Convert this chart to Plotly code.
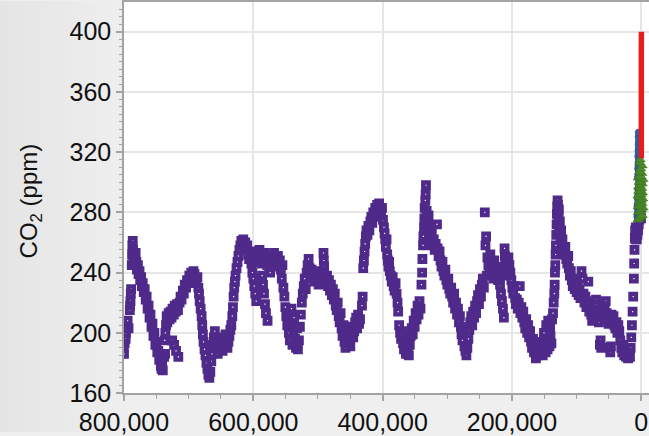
import plotly.graph_objects as go

# ---------------- data ----------------
# Ice-core record (purple squares): age in thousand years before present, CO2 in ppm
purple_age_kyr = [
    800.6, 800.0, 799.0, 797.5, 797.0, 795.5, 794.4, 793.0, 791.0, 790.5, 790.0, 789.5, 789.0,
    788.0, 787.5, 787.0, 786.5, 786.0, 785.5, 785.0,
    784.0, 783.5, 782.0, 781.0, 780.0, 778.5, 777.5, 776.0, 775.0, 773.5, 772.5, 771.0, 769.5,
    768.0, 766.5, 765.0, 763.5, 762.0, 760.5, 759.0, 757.5, 756.0, 754.5, 753.0, 751.5, 750.0,
    748.5, 747.0, 745.5, 744.0, 743.0, 742.0, 741.0, 740.0, 738.0, 736.5,
    737.0, 736.0, 735.0, 734.0, 733.0, 731.0, 729.5, 728.0, 726.5, 725.0, 723.0, 721.5, 720.0,
    718.0, 716.5, 725.5, 722.5, 719.5, 716.0,
    714.0, 712.5, 711.0, 709.0, 707.5, 706.0, 704.0, 702.5, 701.0, 699.0, 697.5, 696.0, 694.0,
    692.5, 691.0, 689.5, 688.0, 686.5,
    685.0, 684.0, 683.0, 681.5, 680.0, 679.0, 678.0, 677.0, 675.5, 674.0, 672.5, 671.0, 669.5,
    668.0, 666.5,
    665.0, 664.0, 662.5, 661.0, 659.5, 658.0, 656.5, 655.0, 653.5, 652.0, 650.5, 649.0, 647.5,
    646.0, 644.5, 643.0, 641.5, 640.0, 638.5, 637.0, 635.5,
    634.0, 632.5, 631.5, 630.5, 629.5, 628.5, 627.5, 626.0, 624.5, 623.0, 621.5, 620.0, 618.5,
    617.0, 615.5, 614.0, 612.5, 611.0, 609.5, 608.0, 606.5, 605.0,
    603.0, 601.5, 600.0, 598.5, 597.0, 595.5,
    598.0, 596.5, 595.0, 593.5, 592.0, 590.5, 589.0, 587.5, 586.0, 584.5, 583.0, 581.5, 580.0,
    578.5, 577.0, 575.5, 574.0, 572.5, 571.0, 569.5, 568.0, 566.5, 565.0, 563.5, 562.0, 560.5,
    586.5, 585.0, 583.5, 582.0, 580.5, 578.0,
    559.0, 557.5, 556.0, 555.0, 553.5, 552.0, 550.5, 549.0, 547.5, 546.0, 545.0, 543.5, 542.0,
    541.0, 539.5, 538.0, 537.0, 535.5, 534.0, 532.5, 531.0, 529.5, 528.0,
    526.5, 525.0, 523.5, 522.0, 520.5, 519.0, 517.5, 516.0, 514.5, 513.0, 511.5, 510.0, 508.5,
    507.0, 505.5, 504.0,
    502.0, 500.5, 499.0, 497.5, 496.0, 494.5, 493.0, 491.5, 491.0, 490.5, 489.0, 487.5, 486.0,
    484.5, 483.0, 481.5, 480.0, 478.5, 477.0, 475.5, 474.0, 472.5, 471.0, 469.5, 468.0, 466.5,
    465.0, 463.5, 462.0, 460.5, 459.0, 457.5, 456.0, 454.5, 453.0, 451.5, 450.0, 448.5, 447.0,
    445.5, 444.0, 442.5, 441.0, 439.5, 438.0, 436.5, 435.0,
    432.0, 431.0, 430.0, 429.0, 428.0, 427.0, 426.0, 425.0, 423.5, 422.0, 420.5, 419.0, 417.5,
    416.0, 414.5, 413.0, 411.5, 410.0, 408.5, 407.0, 405.5, 404.0, 402.5, 401.0,
    399.5, 398.0, 397.0, 396.0, 395.0, 394.0, 393.0, 392.0, 391.0, 390.0, 389.0, 387.5, 386.0,
    384.5, 383.0, 381.5, 380.0, 378.5, 377.0, 376.0,
    374.5, 373.0, 371.5, 370.0, 368.5, 367.0, 365.5, 364.0, 362.5, 361.0, 359.5, 358.0, 356.5,
    355.0, 353.5, 352.0, 350.5, 349.0, 347.5, 346.0, 344.5, 343.0, 341.5,
    340.0, 339.0, 338.5, 337.5, 337.0, 336.0, 335.5, 335.0, 334.0, 333.5, 333.0,
    332.0, 331.0, 330.0, 329.0, 328.0, 327.0, 326.0, 325.0, 324.0, 322.5, 321.0, 319.5, 318.0,
    316.0,
    315.0, 313.5, 312.0, 310.5, 309.0, 307.5, 306.0, 304.5, 303.0, 301.5, 300.0, 298.5, 297.0,
    295.5, 294.0,
    292.5, 291.0, 289.5, 288.0, 286.5, 285.0, 283.5, 282.0, 280.5, 279.0,
    278.0, 276.5, 275.0, 273.5, 272.0, 270.5, 269.0, 267.5,
    266.0, 264.5, 263.0, 261.5, 260.0, 258.5, 257.0, 255.5,
    254.0, 252.5, 251.0, 249.5, 248.0, 246.5, 245.0, 243.5, 242.0, 241.0, 240.0, 239.0,
    238.0, 236.5, 235.0, 233.5, 232.0, 230.5, 229.0, 227.5, 226.0, 224.5, 223.0, 221.5, 220.0,
    218.5, 217.0, 215.5, 214.0, 212.5, 211.5, 211.0, 210.0, 208.5, 207.0, 205.5, 204.0, 202.5,
    201.0, 199.5, 198.0, 196.5, 195.0,
    194.0, 192.5, 191.0, 189.5, 188.0, 187.0, 185.5, 184.0, 182.5, 181.0, 179.5, 178.0, 176.5,
    175.0, 173.5, 172.0, 170.5, 169.0, 167.5, 166.0, 164.5, 163.0, 161.5, 160.0, 158.5, 157.0,
    155.5, 154.0, 152.5, 151.0, 149.5, 148.0, 146.5, 145.0, 143.5, 142.0, 140.5, 139.0,
    150.5, 147.0, 144.0, 141.0, 138.0, 136.5, 135.5, 134.5, 134.0, 133.5, 133.0, 132.5, 132.0,
    131.5, 131.0, 130.5, 130.0, 129.5, 129.0, 128.5, 128.0, 127.5, 127.0, 126.5, 126.0, 125.0,
    124.0, 123.0, 122.0, 120.5, 119.0, 117.5, 116.0, 114.5, 113.0, 112.0, 110.5, 109.0, 107.5,
    106.0, 104.5, 103.0, 101.5, 100.0, 98.5, 97.0, 95.5, 94.0, 92.5, 91.0, 89.5, 88.0, 86.5,
    85.0, 83.5, 82.0, 80.5, 79.0, 77.5, 76.0, 74.5, 73.0, 71.5, 70.0, 68.5, 67.0, 65.5, 64.0,
    63.0, 62.0, 61.0, 59.5, 58.0, 56.5, 55.0, 53.5, 52.0, 50.5, 49.0, 48.0, 47.0, 46.0, 44.5,
    43.0, 41.5, 40.0, 38.5, 37.0, 35.5, 34.0, 32.5, 31.0, 29.5, 28.0, 26.5, 25.0, 23.5, 22.0,
    20.5, 19.0, 17.5, 16.5, 15.5, 14.5, 13.5, 12.5, 11.5, 11.0, 10.5, 10.0, 9.5, 9.0, 8.5, 8.0,
    7.0, 6.0, 5.0, 4.0, 3.0, 2.0, 1.0, 0.5,
]
purple_co2 = [
    190, 186, 193, 196, 200, 204, 208, 203, 215, 218, 221, 226, 229,
    245, 252, 258, 261, 255, 248, 252,
    250, 245, 253, 247, 242, 245, 239, 241, 235, 237, 231, 233, 227,
    229, 222, 224, 216, 218, 210, 212, 204, 206, 198, 200, 192, 194,
    187, 188, 182, 184, 178, 176, 179, 175, 184, 186,
    195, 200, 205, 211, 207, 213, 209, 214, 210, 216, 212, 218, 214,
    219, 215, 195, 192, 188, 184,
    220, 224, 222, 228, 226, 232, 230, 235, 233, 238, 236, 240, 237,
    241, 239, 236, 233, 237,
    230, 226, 221, 216, 211, 205, 199, 194, 189, 185, 180, 176, 172,
    170, 174,
    181, 186, 192, 197, 201, 195, 190, 186, 189, 193, 197, 192, 188,
    191, 195, 199, 194, 190, 194, 198, 202,
    205, 211, 217, 224, 230, 234, 238, 243, 247, 251, 255, 258, 261,
    259, 262, 257, 260, 255, 258, 252, 249, 252,
    246, 240, 236, 231, 226, 221,
    250, 254, 249, 252, 247, 255, 250, 246, 252, 249, 253, 247, 251,
    245, 249, 244, 240, 246, 250, 248, 253, 249, 244, 247, 251, 246,
    238, 232, 226, 219, 213, 208,
    248, 242, 236, 245, 230, 224, 217, 211, 205, 212, 200, 195, 206,
    216, 192, 200, 210, 196, 190, 203, 189, 195, 204,
    212, 220, 226, 231, 236, 229, 240, 245, 249, 243, 238, 242, 236,
    240, 234, 238,
    236, 240, 232, 236, 241, 235, 239, 253, 248, 244, 237, 233, 238,
    231, 235, 228, 232, 225, 229, 222, 226, 218, 215, 220, 211, 207,
    213, 203, 198, 205, 194, 190, 198, 193, 201, 196, 191, 199, 204,
    197, 201, 207, 210, 203, 212, 206, 209,
    218, 224, 243, 248, 254, 259, 264, 268, 265, 271, 268, 274, 277,
    273, 280, 277, 283, 279, 285, 282, 286, 281, 278, 283,
    275, 270, 266, 262, 257, 262, 252, 248, 244, 247, 241, 238, 234,
    237, 231, 228, 233, 226, 220, 214,
    205, 200, 196, 201, 193, 189, 195, 186, 191, 188, 185, 192, 198,
    203, 199, 208, 204, 213, 209, 218, 212, 221, 216,
    232, 240, 249, 258, 264, 270, 276, 283, 288, 292, 298,
    281, 276, 272, 278, 268, 264, 270, 260, 266, 258, 262, 255, 259,
    272,
    256, 251, 254, 248, 244, 247, 241, 238, 242, 235, 232, 236, 229,
    226, 230,
    224, 220, 226, 216, 220, 212, 216, 207, 211, 204,
    199, 195, 201, 191, 188, 185, 190, 196,
    202, 207, 211, 205, 214, 210, 218, 213,
    221, 225, 219, 229, 224, 232, 236, 230, 280, 258, 264, 238,
    250, 245, 240, 252, 247, 243, 236, 248, 242, 238, 244, 235, 240,
    232, 226, 221, 216, 210, 256, 251, 247, 243, 238, 250, 245, 240,
    235, 230, 226, 231, 223,
    219, 222, 216, 220, 231, 213, 217, 210, 214, 207, 203, 209, 200,
    205, 197, 201, 194, 190, 196, 187, 192, 183, 188, 185, 191, 186,
    194, 189, 185, 191, 196, 187, 193, 189, 196, 191, 198, 193,
    200, 205, 208, 203, 209, 213, 220, 226, 232, 240, 245, 252, 258,
    265, 272, 279, 284, 288, 285, 280, 276, 282, 271, 266, 274, 262,
    268, 258, 262, 256, 252, 257, 249, 246, 251, 243, 238, 241, 235,
    231, 236, 229, 233, 227, 231, 225, 229, 223, 241, 236, 226, 220, 224,
    217, 221, 234, 214, 218, 212, 208, 215, 210, 219, 222, 215, 211, 207, 192,
    195, 190, 218, 214, 210, 216, 221, 213, 209, 206, 190, 187, 191, 212, 207,
    211, 205, 203, 207, 200, 205, 201, 195, 190, 187, 192, 185, 189, 184, 187,
    183, 186, 184, 190, 197, 205, 214, 224, 236, 246, 255, 263, 268, 262, 270, 266,
    262, 265, 268, 272, 275, 278, 280, 276,
]

# Recent ice-core record (blue circles): age in years before present, CO2 in ppm
blue_age_yr = [6200, 5800, 5400, 6000, 5000, 4600, 5600, 4200, 3800, 5200, 4400, 3400, 4800,
               3000, 3600, 4000, 2600, 3200, 5400, 4600, 2800, 3800, 5000, 4200, 3400, 4400,
               3000, 3600, 4800, 4000, 3200, 4500, 3700, 4200, 3900, 4300, 4100]
blue_co2 = [277, 279, 282, 284, 286, 280, 289, 283, 278, 291, 293, 287, 295,
            281, 297, 299, 285, 301, 303, 305, 290, 307, 309, 311, 294, 313, 298, 315,
            317, 319, 302, 321, 323, 325, 327, 330, 333]

# Second ice-core record (green triangles)
green_age_yr = [5200, 3000, 800, -1500, 4400, 2000, -300, -2600, 4800, 1200, -1000, 3600,
                200, -2200, 2600, 5000, 400, -1800, 3800, 1600, -600, 4200, 2200, -1400,
                3200, 600, -2400, 4600, 1400, -800, 2800, 1000, -1200, 2400, 1800]
green_co2 = [275, 276, 277, 278, 280, 281, 282, 283, 284, 285, 286, 287,
             288, 289, 290, 291, 292, 293, 294, 295, 296, 297, 298, 299,
             300, 301, 302, 303, 304, 306, 307, 309, 311, 313, 315]

# Direct atmospheric measurements (red line)
red_year = [1959, 1965, 1970, 1975, 1980, 1985, 1990, 1995, 2000, 2005, 2010, 2013, 2015]
red_co2 = [316.0, 320.0, 325.7, 331.1, 338.7, 346.1, 354.4, 360.8, 369.6, 379.8, 389.9, 396.5, 400.0]

y_title = "CO<sub>2</sub> (ppm)"

# ---------------- figure ----------------
PURPLE = "#4f2a8a"
BLUE = "#2f5fa8"
GREEN = "#4d8c2a"
RED = "#e31e1e"

fig = go.Figure()
fig.add_trace(go.Scatter(
    x=[a * 1000 for a in purple_age_kyr], y=purple_co2, mode="markers",
    marker=dict(symbol="square-open", size=5.5, color=PURPLE,
                line=dict(width=4.3, color=PURPLE)),
    showlegend=False, hoverinfo="skip"))
fig.add_trace(go.Scatter(
    x=blue_age_yr, y=blue_co2, mode="markers",
    marker=dict(symbol="circle", size=7, color=BLUE, line=dict(width=0.6, color="#244c8a")),
    showlegend=False, hoverinfo="skip"))
fig.add_trace(go.Scatter(
    x=green_age_yr, y=green_co2, mode="markers",
    marker=dict(symbol="triangle-up", size=9, color=GREEN, line=dict(width=0.5, color="#3b6e1f")),
    showlegend=False, hoverinfo="skip"))
fig.add_trace(go.Scatter(
    x=[1950 - yr for yr in red_year], y=red_co2, mode="lines",
    line=dict(color=RED, width=5.5),
    showlegend=False, hoverinfo="skip"))

W, H = 649, 436
L, R, T, B = 124, 0, 1, 40
pw, ph = W - L - R, H - T - B

shapes = []
# soft grey gradient in the left margin
n = 10
for i in range(n):
    x1 = -L / pw * (1 - (i + 1) / n)
    shapes.append(dict(type="rect", xref="paper", yref="paper",
                       x0=-L / pw, x1=x1, y0=-B / ph, y1=1 + T / ph,
                       fillcolor="rgba(0,0,0,0.0045)", line=dict(width=0), layer="below"))

font = "Liberation Sans, Arial, sans-serif"
axis_common = dict(
    showline=True, linecolor="#a3a3a3", linewidth=1.5,
    ticks="outside", ticklen=6, tickwidth=1.5, tickcolor="#a3a3a3",
    showgrid=True, gridcolor="#e6e6e6", gridwidth=2,
    zeroline=False,
    tickfont=dict(family=font, size=25, color="#111111"),
)

fig.update_layout(
    width=W, height=H,
    margin=dict(l=L, r=R, t=T, b=B, pad=0),
    paper_bgcolor="#efefef", plot_bgcolor="#ffffff",
    shapes=shapes,
    xaxis=dict(range=[800000, -11900], tickmode="linear", tick0=0, dtick=200000,
               tickformat=",d", mirror=True,
               minor=dict(dtick=50000, tick0=0, ticks="outside", ticklen=4,
                          tickcolor="#a3a3a3", tickwidth=1.2, showgrid=False),
               **axis_common),
    yaxis=dict(range=[160, 419.7], tickmode="linear", tick0=160, dtick=40,
               minor=dict(dtick=5, tick0=160, ticks="outside", ticklen=3,
                          tickcolor="#a3a3a3", tickwidth=1.2, showgrid=False),
               **axis_common),
    annotations=[dict(text=y_title, textangle=-90, xref="paper", yref="paper",
                      x=(30 - L) / pw, y=0.49, xanchor="center", yanchor="middle",
                      showarrow=False, font=dict(family=font, size=24, color="#111111"))],
)

fig.write_html("out.html")
